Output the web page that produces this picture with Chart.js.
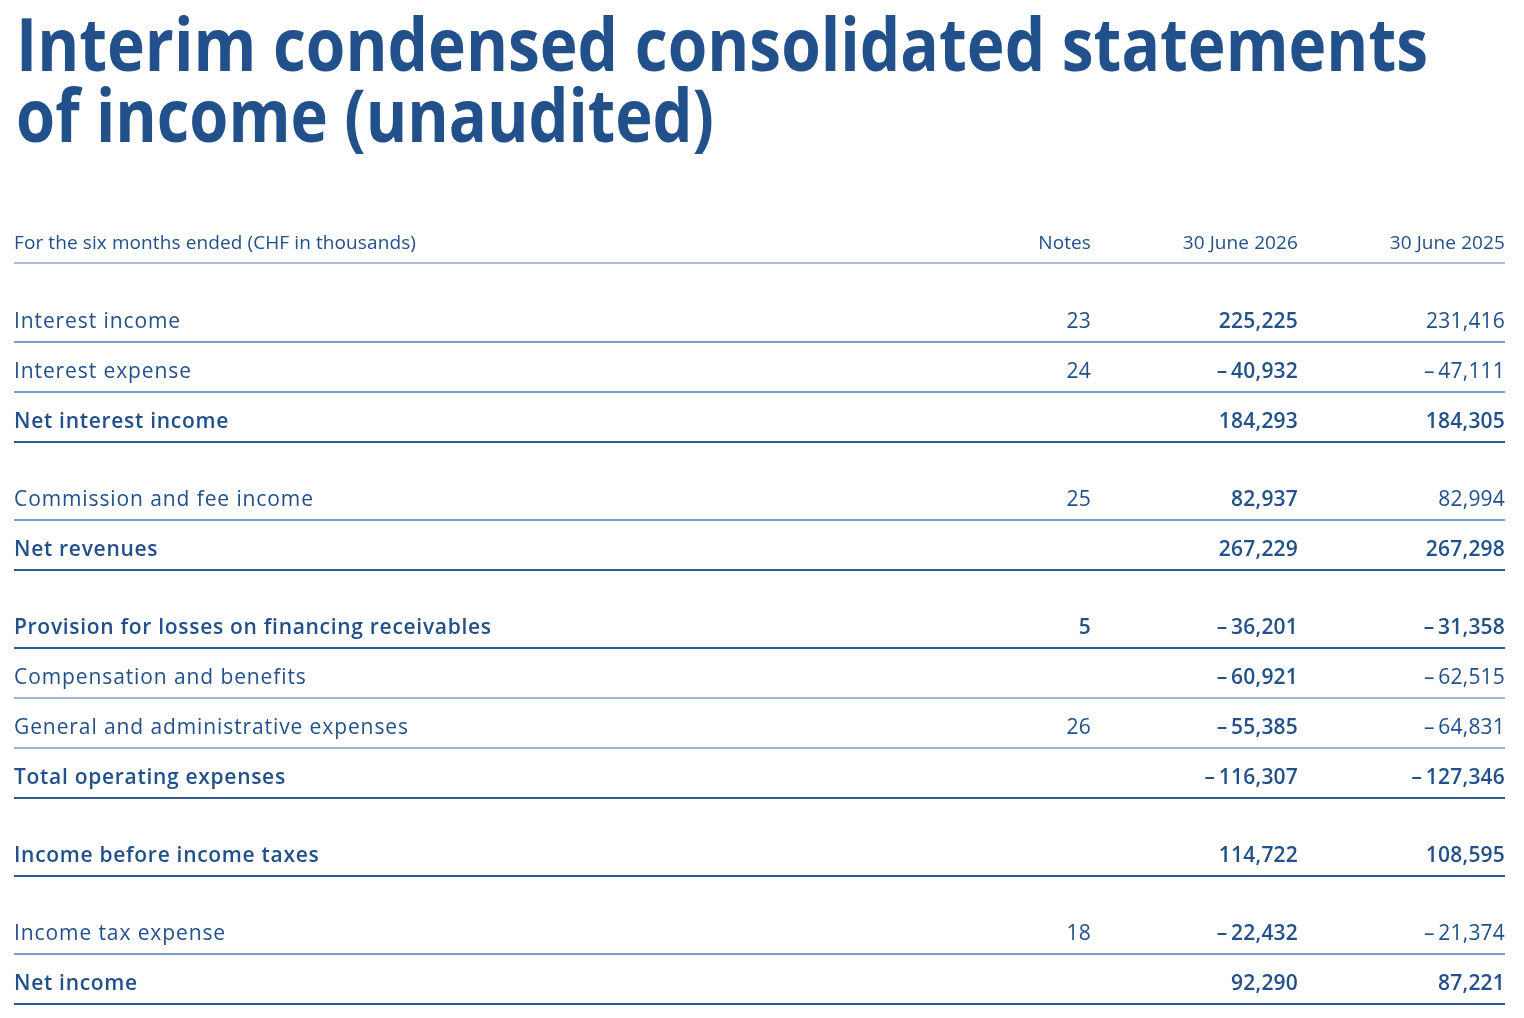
<!DOCTYPE html>
<html>
<head>
<meta charset="utf-8">
<script src="https://cdn.jsdelivr.net/npm/chart.js@4.4.1/dist/chart.umd.min.js"></script>
<style>
  html, body { margin: 0; padding: 0; background: #fff; }
  #wrap { position: relative; width: 1524px; height: 1018px; overflow: hidden; }
  #title { position: absolute; left: 16px; top: 7px; margin: 0; color: #21508a;
           font: 700 73px/71px "Open Sans", sans-serif; white-space: nowrap; }
  #title div { width: max-content; transform-origin: 0 0; }
  #chart { position: absolute; left: 0; top: 0; }
</style>
</head>
<body>
<div id="wrap">
  <canvas id="chart" width="1524" height="1018"></canvas>
  <h1 id="title"><div>Interim condensed consolidated statements</div><div>of income (unaudited)</div></h1>
</div>
<script>
// шапка таблиці
const headerLabels = ['For the six months ended (CHF in thousands)', 'Notes', '30 June 2026', '30 June 2025'];

// рядки звіту
const rowLabels = [
  'Interest income',
  'Interest expense',
  'Net interest income',
  'Commission and fee income',
  'Net revenues',
  'Provision for losses on financing receivables',
  'Compensation and benefits',
  'General and administrative expenses',
  'Total operating expenses',
  'Income before income taxes',
  'Income tax expense',
  'Net income'
];
const notes = ['23', '24', '', '25', '', '5', '', '26', '', '', '18', ''];
const june2026 = [225225, -40932, 184293, 82937, 267229, -36201, -60921, -55385, -116307, 114722, -22432, 92290];
const june2025 = [231416, -47111, 184305, 82994, 267298, -31358, -62515, -64831, -127346, 108595, -21374, 87221];
// блоки рядків (між ними проміжок) і тип рядка
const rowGroups = [1, 1, 1, 2, 2, 3, 3, 3, 3, 4, 5, 5];
const rowKinds = ['item', 'item', 'total', 'item', 'total', 'total', 'item', 'item', 'total', 'total', 'item', 'total'];

const BLUE = '#21508a';
const FONT = '"Open Sans", sans-serif';
const GAP = 0.56;
const rowPos = rowLabels.map((_, i) => 1 + i + rowGroups[i] * GAP);

// правий край колонок (пікселі по осі x)
const colLeft = 14;
const colNotes = 1091;
const col2026 = 1298;
const col2025 = 1505;
const ruleEnd = 1505;

function fmt(v) {
  const s = Math.abs(v).toLocaleString('en-US');
  return v < 0 ? '\u2013\u2009' + s : s;
}

function ruleStyle(i) {
  if (rowKinds[i] === 'total') return { color: '#2b5a91', width: 2 };
  if (i === 6 || i === 7) return { color: '#9db4ce', width: 2 };
  return { color: '#4f7cab', width: 1.5 };
}

const tablePlugin = {
  id: 'tableText',
  afterDatasetsDraw(chart) {
    const ctx = chart.ctx;
    const xs = chart.scales.x, ys = chart.scales.y;
    ctx.save();
    ctx.fillStyle = BLUE;

    // header
    const hy = ys.getPixelForValue(0);
    ctx.font = '400 19px ' + FONT;
    ctx.letterSpacing = '0.1px';
    ctx.textBaseline = 'alphabetic';
    ctx.textAlign = 'left';
    ctx.fillText(headerLabels[0], xs.getPixelForValue(colLeft), hy + 7);
    ctx.textAlign = 'right';
    ctx.fillText(headerLabels[1], xs.getPixelForValue(colNotes), hy + 7);
    ctx.fillText(headerLabels[2], xs.getPixelForValue(col2026), hy + 7);
    ctx.fillText(headerLabels[3], xs.getPixelForValue(col2025), hy + 7);
    ctx.strokeStyle = '#a9bed5';
    ctx.lineWidth = 2;
    ctx.beginPath();
    ctx.moveTo(xs.getPixelForValue(colLeft), hy + 21);
    ctx.lineTo(xs.getPixelForValue(ruleEnd), hy + 21);
    ctx.stroke();

    rowLabels.forEach((label, i) => {
      const y = ys.getPixelForValue(rowPos[i]) + 7.5;
      const total = rowKinds[i] === 'total';
      const reg = '400 21px ' + FONT;
      const bold = '600 21px ' + FONT;
      ctx.fillStyle = BLUE;
      ctx.font = total ? bold : reg;
      ctx.letterSpacing = total ? '0.7px' : '0.9px';
      ctx.textAlign = 'left';
      ctx.fillText(label, xs.getPixelForValue(colLeft), y);
      ctx.letterSpacing = '0.2px';
      ctx.textAlign = 'right';
      if (notes[i]) ctx.fillText(notes[i], xs.getPixelForValue(colNotes), y);
      ctx.font = bold;
      ctx.fillText(fmt(june2026[i]), xs.getPixelForValue(col2026), y);
      ctx.font = total ? bold : reg;
      ctx.fillText(fmt(june2025[i]), xs.getPixelForValue(col2025), y);

      const r = ruleStyle(i);
      ctx.strokeStyle = r.color;
      ctx.lineWidth = r.width;
      ctx.beginPath();
      ctx.moveTo(xs.getPixelForValue(colLeft), y + 14.5);
      ctx.lineTo(xs.getPixelForValue(ruleEnd), y + 14.5);
      ctx.stroke();
    });
    ctx.restore();
  }
};

new Chart(document.getElementById('chart'), {
  type: 'scatter',
  data: {
    datasets: [{
      label: 'rows',
      data: rowPos.map(p => ({ x: colLeft, y: p })),
      pointRadius: 0
    }]
  },
  options: {
    responsive: false,
    animation: false,
    events: [],
    layout: { padding: 0 },
    plugins: { legend: { display: false }, tooltip: { enabled: false } },
    scales: {
      x: { type: 'linear', min: 0, max: 1524, display: false },
      y: { type: 'linear', min: -242 / 50, max: (1018 - 242) / 50, reverse: true, display: false }
    }
  },
  plugins: [tablePlugin]
});

// підганяємо ширину заголовка
document.fonts.ready.then(() => {
  const lines = document.querySelectorAll('#title div');
  const targets = [1412, 698];
  lines.forEach((l, i) => {
    const k = targets[i] / l.getBoundingClientRect().width;
    l.style.transform = 'scaleX(' + k + ')';
  });
});
</script>
</body>
</html>
